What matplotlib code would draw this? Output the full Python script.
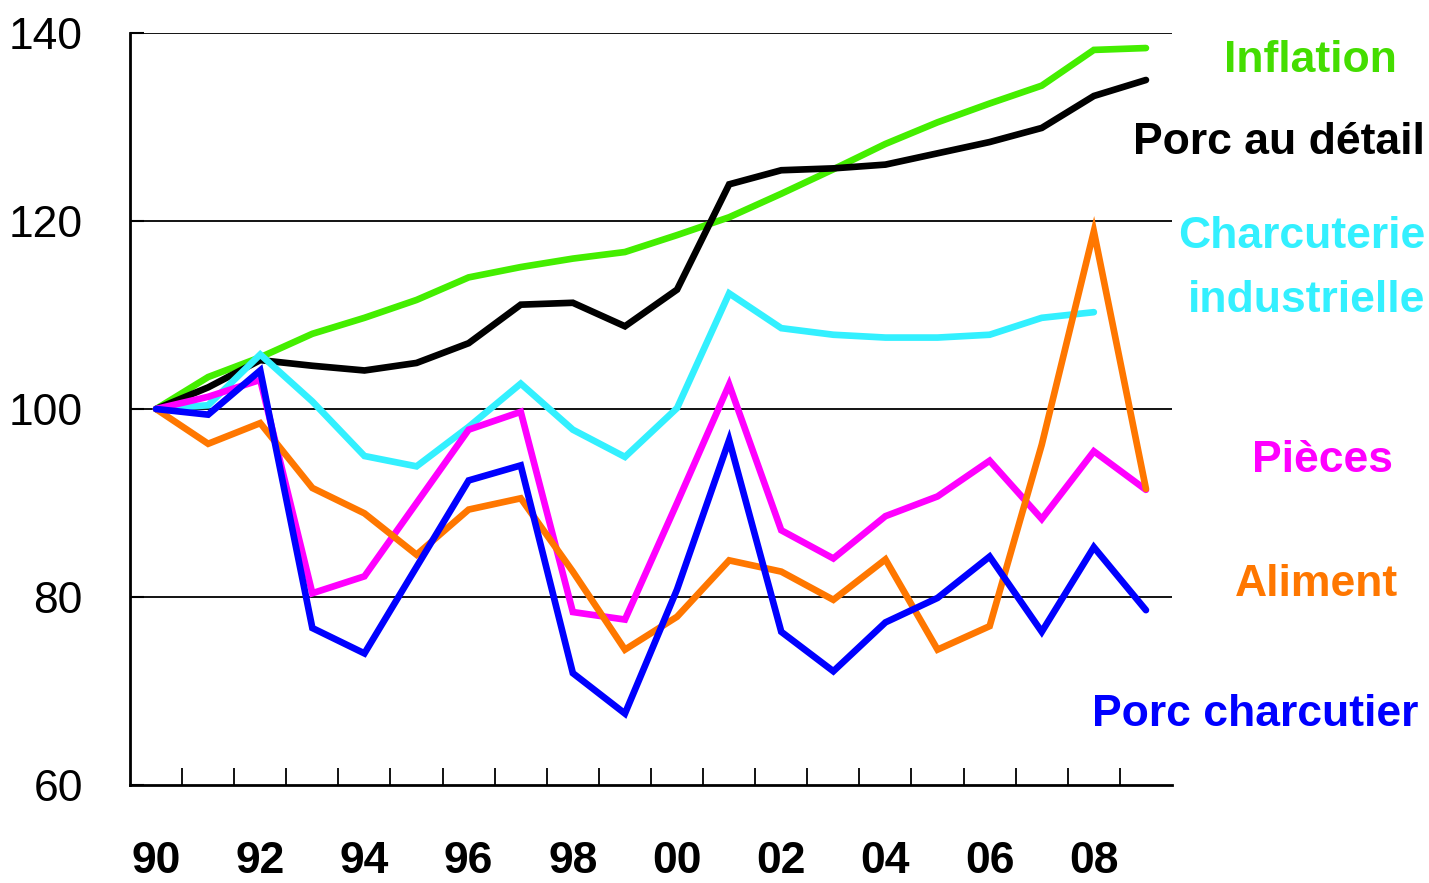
import matplotlib
matplotlib.use('Agg')

import numpy as np
import matplotlib.pyplot as plt
import matplotlib.font_manager as fm

# ========== fonts ==========
_NARROW = ['Liberation Sans Narrow', 'DejaVu Sans Condensed', 'Liberation Sans', 'DejaVu Sans']
_available = set(f.name for f in fm.fontManager.ttflist)
FONT = [f for f in _NARROW if f in _available] or ['DejaVu Sans']

# ========== data (index 1990 = 100) ==========
years = np.arange(1990, 2010)

inflation = [100.0, 103.4, 105.5, 108.0, 109.7, 111.6, 114.0, 115.1, 116.0, 116.7,
             118.5, 120.4, 122.9, 125.5, 128.2, 130.5, 132.5, 134.4, 138.2, 138.4]
porc_detail = [100.0, 102.3, 105.2, 104.6, 104.1, 104.9, 107.0, 111.1, 111.3, 108.8,
               112.7, 123.9, 125.4, 125.6, 126.0, 127.2, 128.4, 129.9, 133.3, 135.0]
charcuterie = [100.0, 100.4, 105.8, 100.8, 95.0, 93.9, 98.1, 102.7, 97.8, 94.9,
               100.1, 112.3, 108.6, 107.9, 107.6, 107.6, 107.9, 109.7, 110.3]
pieces = [100.0, 101.3, 103.1, 80.4, 82.2, 90.0, 97.8, 99.7, 78.4, 77.6,
          90.0, 102.6, 87.1, 84.1, 88.6, 90.7, 94.5, 88.3, 95.5, 91.4]
aliment = [100.0, 96.3, 98.5, 91.6, 88.9, 84.5, 89.3, 90.5, 82.7, 74.4,
           77.9, 83.9, 82.7, 79.7, 84.0, 74.4, 76.9, 96.2, 118.9, 91.5]
porc_charcutier = [100.0, 99.4, 104.1, 76.7, 74.0, 83.2, 92.4, 94.0, 71.9, 67.6,
                   80.8, 96.7, 76.3, 72.1, 77.3, 79.9, 84.3, 76.3, 85.3, 78.6]

series = [
    (inflation, '#44ee00'),
    (porc_detail, '#000000'),
    (charcuterie, '#33f0ff'),
    (pieces, '#ff00ff'),
    (aliment, '#ff7700'),
    (porc_charcutier, '#0000ff'),
]

labels = [
    # text, colour, right edge x (px), centre y (px)
    ('Inflation', '#44dd00', 1397, 60),
    ('Porc au détail', '#000000', 1425, 143),
    ('Charcuterie', '#33f0ff', 1425, 237),
    ('industrielle', '#33f0ff', 1425, 300),
    ('Pièces', '#ff00ff', 1393, 460),
    ('Aliment', '#ff7700', 1398, 585),
    ('Porc charcutier', '#0000ff', 1418, 715),
]

W, H = 1429, 883
fig = plt.figure(figsize=(W / 100, H / 100), dpi=100)
ax = fig.add_axes([130 / W, 1 - 785 / H, (1172 - 130) / W, (785 - 33) / H])

for vals, col in series:
    ax.plot(years[:len(vals)], vals, color=col, lw=4.8,
            solid_capstyle='round', solid_joinstyle='miter', zorder=3)

ax.set_xlim(1989.5, 2009.5)
ax.set_ylim(60, 140)

# grid
for y in [80, 100, 120, 140]:
    ax.axhline(y, color='black', lw=1.3, zorder=1)

# spines
for s in ['top', 'right']:
    ax.spines[s].set_visible(False)
for s in ['left', 'bottom']:
    ax.spines[s].set_linewidth(2.0)

# y ticks
ax.set_yticks([60, 80, 100, 120, 140])
ax.set_yticklabels(['60', '80', '100', '120', '140'])
ax.tick_params(axis='y', direction='in', length=10, width=1.5, pad=34,
               labelsize=32)
for t in ax.get_yticklabels():
    t.set_fontfamily(FONT)

# x ticks: marks between years, labels on even years
ax.set_xticks(np.arange(1990.5, 2009.5, 1.0))
ax.set_xticklabels([])
ax.tick_params(axis='x', which='major', direction='in', length=12, width=1.3)
ax.set_xticks(np.arange(1990, 2009, 2), minor=True)
ax.set_xticklabels(['%02d' % (y % 100) for y in range(1990, 2009, 2)], minor=True)
ax.tick_params(axis='x', which='minor', length=0, pad=40, labelsize=32)
for t in ax.get_xticklabels(minor=True):
    t.set_fontfamily(FONT)
    t.set_fontweight('bold')

# series labels
for txt, col, xr, yc in labels:
    fig.text(xr / W, 1 - yc / H, txt, color=col, ha='right', va='center',
             fontsize=32, fontweight='bold', family=FONT)

fig.savefig('out.png', dpi=100)
